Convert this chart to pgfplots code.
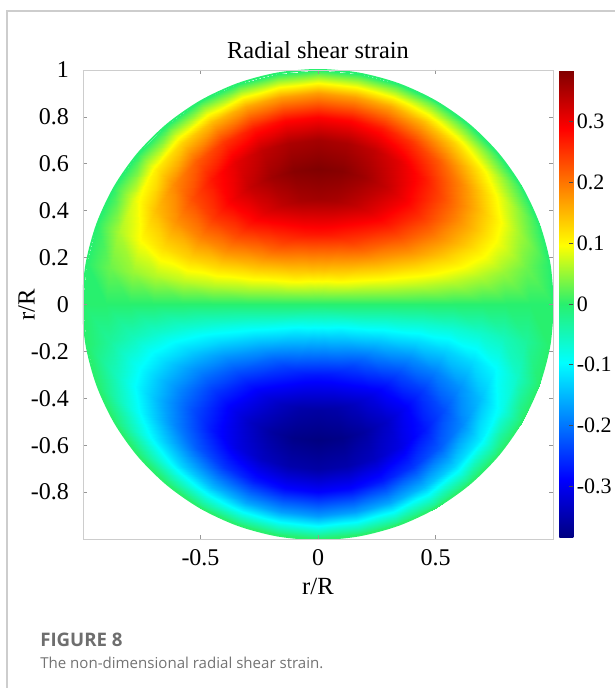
\documentclass[border=0pt]{standalone}
\usepackage{fontspec}
\setmainfont{Liberation Serif}
\newfontfamily\capfont{Open Sans}
\usepackage{pgfplots}
\pgfplotsset{compat=1.18}
\usepackage{pgfplotstable}
\definecolor{framegray}{RGB}{205,205,205}
\definecolor{axgray}{RGB}{205,205,205}
\definecolor{tickgray}{RGB}{150,150,150}
\definecolor{capgray}{RGB}{110,110,110}
\definecolor{txtgray}{RGB}{115,115,115}
\definecolor{zerogreen}{RGB}{40,240,110}

% polar grid: t = angle (deg), r = radius, f = radial shear strain
\pgfplotstableread[row sep=\\]{
t r f\\
0 0 0\\ 0 .15 0\\ 0 .3 0\\ 0 .45 0\\ 0 .577 0\\ 0 .7 0\\ 0 .8 0\\ 0 .9 0\\ 0 1 0\\
10 0 0\\ 10 .15 .0255\\ 10 .3 .0474\\ 10 .45 .0623\\ 10 .577 .0668\\ 10 .7 .0620\\ 10 .8 .0500\\ 10 .9 .0297\\ 10 1 0\\
20 0 0\\ 20 .15 .0501\\ 20 .3 .0934\\ 20 .45 .1227\\ 20 .577 .1316\\ 20 .7 .1221\\ 20 .8 .0985\\ 20 .9 .0585\\ 20 1 0\\
30 0 0\\ 30 .15 .0733\\ 30 .3 .1365\\ 30 .45 .1795\\ 30 .577 .1925\\ 30 .7 .1785\\ 30 .8 .1440\\ 30 .9 .0855\\ 30 1 0\\
40 0 0\\ 40 .15 .0942\\ 40 .3 .1755\\ 40 .45 .2307\\ 40 .577 .2474\\ 40 .7 .2295\\ 40 .8 .1851\\ 40 .9 .1099\\ 40 1 0\\
50 0 0\\ 50 .15 .1123\\ 50 .3 .2091\\ 50 .45 .2749\\ 50 .577 .2948\\ 50 .7 .2735\\ 50 .8 .2206\\ 50 .9 .1310\\ 50 1 0\\
60 0 0\\ 60 .15 .1270\\ 60 .3 .2364\\ 60 .45 .3108\\ 60 .577 .3333\\ 60 .7 .3092\\ 60 .8 .2494\\ 60 .9 .1481\\ 60 1 0\\
70 0 0\\ 70 .15 .1378\\ 70 .3 .2565\\ 70 .45 .3373\\ 70 .577 .3617\\ 70 .7 .3355\\ 70 .8 .2706\\ 70 .9 .1607\\ 70 1 0\\
80 0 0\\ 80 .15 .1444\\ 80 .3 .2689\\ 80 .45 .3534\\ 80 .577 .3791\\ 80 .7 .3516\\ 80 .8 .2836\\ 80 .9 .1684\\ 80 1 0\\
90 0 0\\ 90 .15 .1466\\ 90 .3 .2730\\ 90 .45 .3589\\ 90 .577 .3849\\ 90 .7 .3570\\ 90 .8 .2880\\ 90 .9 .1710\\ 90 1 0\\
100 0 0\\ 100 .15 .1444\\ 100 .3 .2689\\ 100 .45 .3534\\ 100 .577 .3791\\ 100 .7 .3516\\ 100 .8 .2836\\ 100 .9 .1684\\ 100 1 0\\
110 0 0\\ 110 .15 .1378\\ 110 .3 .2565\\ 110 .45 .3373\\ 110 .577 .3617\\ 110 .7 .3355\\ 110 .8 .2706\\ 110 .9 .1607\\ 110 1 0\\
120 0 0\\ 120 .15 .1270\\ 120 .3 .2364\\ 120 .45 .3108\\ 120 .577 .3333\\ 120 .7 .3092\\ 120 .8 .2494\\ 120 .9 .1481\\ 120 1 0\\
130 0 0\\ 130 .15 .1123\\ 130 .3 .2091\\ 130 .45 .2749\\ 130 .577 .2948\\ 130 .7 .2735\\ 130 .8 .2206\\ 130 .9 .1310\\ 130 1 0\\
140 0 0\\ 140 .15 .0942\\ 140 .3 .1755\\ 140 .45 .2307\\ 140 .577 .2474\\ 140 .7 .2295\\ 140 .8 .1851\\ 140 .9 .1099\\ 140 1 0\\
150 0 0\\ 150 .15 .0733\\ 150 .3 .1365\\ 150 .45 .1795\\ 150 .577 .1925\\ 150 .7 .1785\\ 150 .8 .1440\\ 150 .9 .0855\\ 150 1 0\\
160 0 0\\ 160 .15 .0501\\ 160 .3 .0934\\ 160 .45 .1227\\ 160 .577 .1316\\ 160 .7 .1221\\ 160 .8 .0985\\ 160 .9 .0585\\ 160 1 0\\
170 0 0\\ 170 .15 .0255\\ 170 .3 .0474\\ 170 .45 .0623\\ 170 .577 .0668\\ 170 .7 .0620\\ 170 .8 .0500\\ 170 .9 .0297\\ 170 1 0\\
180 0 0\\ 180 .15 0\\ 180 .3 0\\ 180 .45 0\\ 180 .577 0\\ 180 .7 0\\ 180 .8 0\\ 180 .9 0\\ 180 1 0\\
190 0 0\\ 190 .15 -0.0255\\ 190 .3 -0.0474\\ 190 .45 -0.0623\\ 190 .577 -0.0668\\ 190 .7 -0.0620\\ 190 .8 -0.0500\\ 190 .9 -0.0297\\ 190 1 0\\
200 0 0\\ 200 .15 -0.0501\\ 200 .3 -0.0934\\ 200 .45 -0.1227\\ 200 .577 -0.1316\\ 200 .7 -0.1221\\ 200 .8 -0.0985\\ 200 .9 -0.0585\\ 200 1 0\\
210 0 0\\ 210 .15 -0.0733\\ 210 .3 -0.1365\\ 210 .45 -0.1795\\ 210 .577 -0.1925\\ 210 .7 -0.1785\\ 210 .8 -0.1440\\ 210 .9 -0.0855\\ 210 1 0\\
220 0 0\\ 220 .15 -0.0942\\ 220 .3 -0.1755\\ 220 .45 -0.2307\\ 220 .577 -0.2474\\ 220 .7 -0.2295\\ 220 .8 -0.1851\\ 220 .9 -0.1099\\ 220 1 0\\
230 0 0\\ 230 .15 -0.1123\\ 230 .3 -0.2091\\ 230 .45 -0.2749\\ 230 .577 -0.2948\\ 230 .7 -0.2735\\ 230 .8 -0.2206\\ 230 .9 -0.1310\\ 230 1 0\\
240 0 0\\ 240 .15 -0.1270\\ 240 .3 -0.2364\\ 240 .45 -0.3108\\ 240 .577 -0.3333\\ 240 .7 -0.3092\\ 240 .8 -0.2494\\ 240 .9 -0.1481\\ 240 1 0\\
250 0 0\\ 250 .15 -0.1378\\ 250 .3 -0.2565\\ 250 .45 -0.3373\\ 250 .577 -0.3617\\ 250 .7 -0.3355\\ 250 .8 -0.2706\\ 250 .9 -0.1607\\ 250 1 0\\
260 0 0\\ 260 .15 -0.1444\\ 260 .3 -0.2689\\ 260 .45 -0.3534\\ 260 .577 -0.3791\\ 260 .7 -0.3516\\ 260 .8 -0.2836\\ 260 .9 -0.1684\\ 260 1 0\\
270 0 0\\ 270 .15 -0.1466\\ 270 .3 -0.2730\\ 270 .45 -0.3589\\ 270 .577 -0.3849\\ 270 .7 -0.3570\\ 270 .8 -0.2880\\ 270 .9 -0.1710\\ 270 1 0\\
280 0 0\\ 280 .15 -0.1444\\ 280 .3 -0.2689\\ 280 .45 -0.3534\\ 280 .577 -0.3791\\ 280 .7 -0.3516\\ 280 .8 -0.2836\\ 280 .9 -0.1684\\ 280 1 0\\
290 0 0\\ 290 .15 -0.1378\\ 290 .3 -0.2565\\ 290 .45 -0.3373\\ 290 .577 -0.3617\\ 290 .7 -0.3355\\ 290 .8 -0.2706\\ 290 .9 -0.1607\\ 290 1 0\\
300 0 0\\ 300 .15 -0.1270\\ 300 .3 -0.2364\\ 300 .45 -0.3108\\ 300 .577 -0.3333\\ 300 .7 -0.3092\\ 300 .8 -0.2494\\ 300 .9 -0.1481\\ 300 1 0\\
310 0 0\\ 310 .15 -0.1123\\ 310 .3 -0.2091\\ 310 .45 -0.2749\\ 310 .577 -0.2948\\ 310 .7 -0.2735\\ 310 .8 -0.2206\\ 310 .9 -0.1310\\ 310 1 0\\
320 0 0\\ 320 .15 -0.0942\\ 320 .3 -0.1755\\ 320 .45 -0.2307\\ 320 .577 -0.2474\\ 320 .7 -0.2295\\ 320 .8 -0.1851\\ 320 .9 -0.1099\\ 320 1 0\\
330 0 0\\ 330 .15 -0.0733\\ 330 .3 -0.1365\\ 330 .45 -0.1795\\ 330 .577 -0.1925\\ 330 .7 -0.1785\\ 330 .8 -0.1440\\ 330 .9 -0.0855\\ 330 1 0\\
340 0 0\\ 340 .15 -0.0501\\ 340 .3 -0.0934\\ 340 .45 -0.1227\\ 340 .577 -0.1316\\ 340 .7 -0.1221\\ 340 .8 -0.0985\\ 340 .9 -0.0585\\ 340 1 0\\
350 0 0\\ 350 .15 -0.0255\\ 350 .3 -0.0474\\ 350 .45 -0.0623\\ 350 .577 -0.0668\\ 350 .7 -0.0620\\ 350 .8 -0.0500\\ 350 .9 -0.0297\\ 350 1 0\\
360 0 0\\ 360 .15 0\\ 360 .3 0\\ 360 .45 0\\ 360 .577 0\\ 360 .7 0\\ 360 .8 0\\ 360 .9 0\\ 360 1 0\\
}\strain

% rim of the disc (r/R = 1), angles in degrees
\pgfplotstableread[row sep=\\]{
t r\\ 0 1\\ 10 1\\ 20 1\\ 30 1\\ 40 1\\ 50 1\\ 60 1\\ 70 1\\ 80 1\\ 90 1\\ 100 1\\ 110 1\\ 120 1\\ 130 1\\ 140 1\\ 150 1\\ 160 1\\ 170 1\\ 180 1\\
190 1\\ 200 1\\ 210 1\\ 220 1\\ 230 1\\ 240 1\\ 250 1\\ 260 1\\ 270 1\\ 280 1\\ 290 1\\ 300 1\\ 310 1\\ 320 1\\ 330 1\\ 340 1\\ 350 1\\ 360 1\\
}\rim

\begin{document}
\begin{tikzpicture}
\path[use as bounding box] (0,0) rectangle (461.25pt,516pt);
\draw[line width=0.8pt, framegray] (5.25pt,0) -- (5.25pt,507.75pt) -- (461.25pt,507.75pt);
\begin{axis}[
  at={(62.25pt,111.75pt)}, anchor=south west,
  scale only axis, width=352.5pt, height=351.75pt,
  xmin=-1, xmax=1, ymin=-1, ymax=1,
  enlargelimits=false,
  axis on top,
  /pgf/number format/assume math mode=true,
  xtick={-0.5,0,0.5},
  ytick={-0.8,-0.6,-0.4,-0.2,0,0.2,0.4,0.6,0.8,1},
  tick align=inside,
  major tick length=3pt,
  axis line style={draw=axgray, line width=0.6pt},
  tick style={draw=tickgray, line width=0.5pt},
  tick label style={font=\fontsize{18}{20}\selectfont, text=black},
  yticklabel style={xshift=-7pt},
  xticklabel style={yshift=-4pt},
  xlabel={r/R}, ylabel={r/R},
  x label style={at={(axis description cs:0.5,-0.102)}, anchor=center, font=\fontsize{18.5}{20}\selectfont},
  y label style={at={(axis description cs:-0.12,0.5)}, anchor=center, font=\fontsize{18.5}{20}\selectfont},
  title={Radial shear strain},
  title style={font=\fontsize{18.3}{20}\selectfont, at={(axis description cs:0.5,1)}, anchor=base, yshift=2.5pt},
  colormap={myjet}{rgb255(0cm)=(0,0,128) rgb255(1cm)=(0,0,255) rgb255(3cm)=(0,255,255) rgb255(4cm)=(40,240,110) rgb255(5cm)=(255,255,0) rgb255(7cm)=(255,0,0) rgb255(8cm)=(128,0,0)},
  point meta min=-0.385, point meta max=0.385,
  colorbar,
  colorbar style={
    at={(parent axis.north east)}, anchor=north west, xshift=-3.75pt,
    scale only axis, width=10.5pt, height=351pt,
    ytick={-0.3,-0.2,-0.1,0,0.1,0.2,0.3},
    yticklabel pos=right, ytick pos=right,
    tick align=inside, major tick length=3pt,
    axis line style={draw=none},
    tick style={draw=black!70, line width=0.5pt},
    /pgf/number format/assume math mode=true,
    yticklabel style={font=\fontsize{16.5}{18}\selectfont, xshift=-1pt},
  },
]
\addplot[surf, shader=interp, mesh/cols=9, point meta=\thisrow{f}]
  table[x expr={\thisrow{r}*cos(\thisrow{t})}, y expr={\thisrow{r}*sin(\thisrow{t})}] {\strain};
\addplot[smooth, draw=zerogreen, line width=1.5pt, forget plot]
  table[x expr={\thisrow{r}*cos(\thisrow{t})}, y expr={\thisrow{r}*sin(\thisrow{t})}] {\rim};
\end{axis}
\node[anchor=base west, inner sep=0pt, text=capgray] at (30pt,30.75pt)
  {\capfont\bfseries\fontsize{14}{16}\selectfont FIGURE 8};
\node[anchor=base west, inner sep=0pt, text=txtgray] at (30pt,14.25pt)
  {\capfont\fontsize{11.3}{13}\selectfont The non-dimensional radial shear strain.};
\end{tikzpicture}
\end{document}
